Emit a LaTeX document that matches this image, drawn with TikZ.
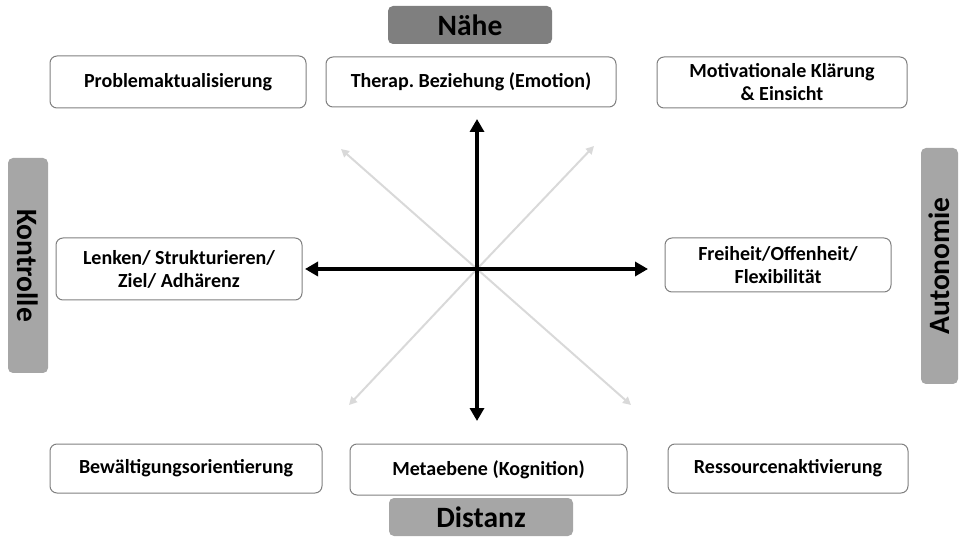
\documentclass[tikz,border=0pt]{standalone}
\usepackage{fontspec}
\setmainfont{Carlito}
\usetikzlibrary{arrows.meta}
\definecolor{darkhead}{HTML}{7F7F7F}
\definecolor{lighthead}{HTML}{A6A6A6}
\definecolor{diag}{HTML}{D9D9D9}
\frenchspacing
\begin{document}
\begin{tikzpicture}[x=1pt,y=-1pt,
  item/.style={draw=black!50, line width=1pt, rounded corners=7pt, fill=white, inner sep=0pt, align=center, font=\bfseries\fontsize{20}{23}\selectfont},
  head/.style={rounded corners=5pt, inner sep=0pt, font=\bfseries\fontsize{29.5}{32}\selectfont},
  mainarrow/.style={line width=3.6pt, -{Triangle[length=13pt,width=14pt]}},
  diagarrow/.style={line width=2pt, diag, -{Triangle[length=8pt,width=8pt]}}]
\useasboundingbox (0,0) rectangle (959,537);
% header labels
\node[head, fill=darkhead, minimum width=164pt, minimum height=38pt] (naehe) at (470,25) {Nähe};
\node[head, fill=lighthead, minimum width=184pt, minimum height=38pt] (distanz) at (481,517) {Distanz};
\node[head, fill=lighthead, minimum width=215pt, minimum height=40pt, rotate=-90] (kontrolle) at (28,265.5) {Kontrolle};
\node[head, fill=lighthead, minimum width=236pt, minimum height=37pt, rotate=90] (autonomie) at (939.5,266) {Autonomie};
% items
\node[item, minimum width=256pt, minimum height=52pt] (prob) at (178,82) {Problemaktualisierung};
\node[item, minimum width=290pt, minimum height=50pt] (therap) at (471,82) {Therap. Beziehung (Emotion)};
\node[item, minimum width=250pt, minimum height=51pt] (motiv) at (782,82.5) {Motivationale Klärung\\\& Einsicht};
\node[item, minimum width=246pt, minimum height=62pt] (lenken) at (179,269) {Lenken/ Strukturieren/\\Ziel/ Adhärenz};
\node[item, minimum width=226pt, minimum height=54pt] (freiheit) at (778,265) {Freiheit/Offenheit/\\Flexibilität};
\node[item, minimum width=272pt, minimum height=49pt] (bewalt) at (186,468.5) {Bewältigungsorientierung};
\node[item, minimum width=277pt, minimum height=51pt] (meta) at (488.5,469.5) {Metaebene (Kognition)};
\node[item, minimum width=240pt, minimum height=49pt] (ress) at (788,468.5) {Ressourcenaktivierung};
% axes
\coordinate (c) at (477,269);
\coordinate (dtl) at (341,149);
\coordinate (dtr) at (594,146);
\coordinate (dbl) at (349,405);
\coordinate (dbr) at (631,405);
\coordinate (atop) at (477,119);
\coordinate (abot) at (477,421);
\coordinate (aleft) at (305,269);
\coordinate (aright) at (648,269);
\draw[diagarrow] (c) -- (dtl);
\draw[diagarrow] (c) -- (dtr);
\draw[diagarrow] (c) -- (dbl);
\draw[diagarrow] (c) -- (dbr);
\draw[mainarrow] (c) -- (atop);
\draw[mainarrow] (c) -- (abot);
\draw[mainarrow] (c) -- (aleft);
\draw[mainarrow] (c) -- (aright);
\end{tikzpicture}
\end{document}
